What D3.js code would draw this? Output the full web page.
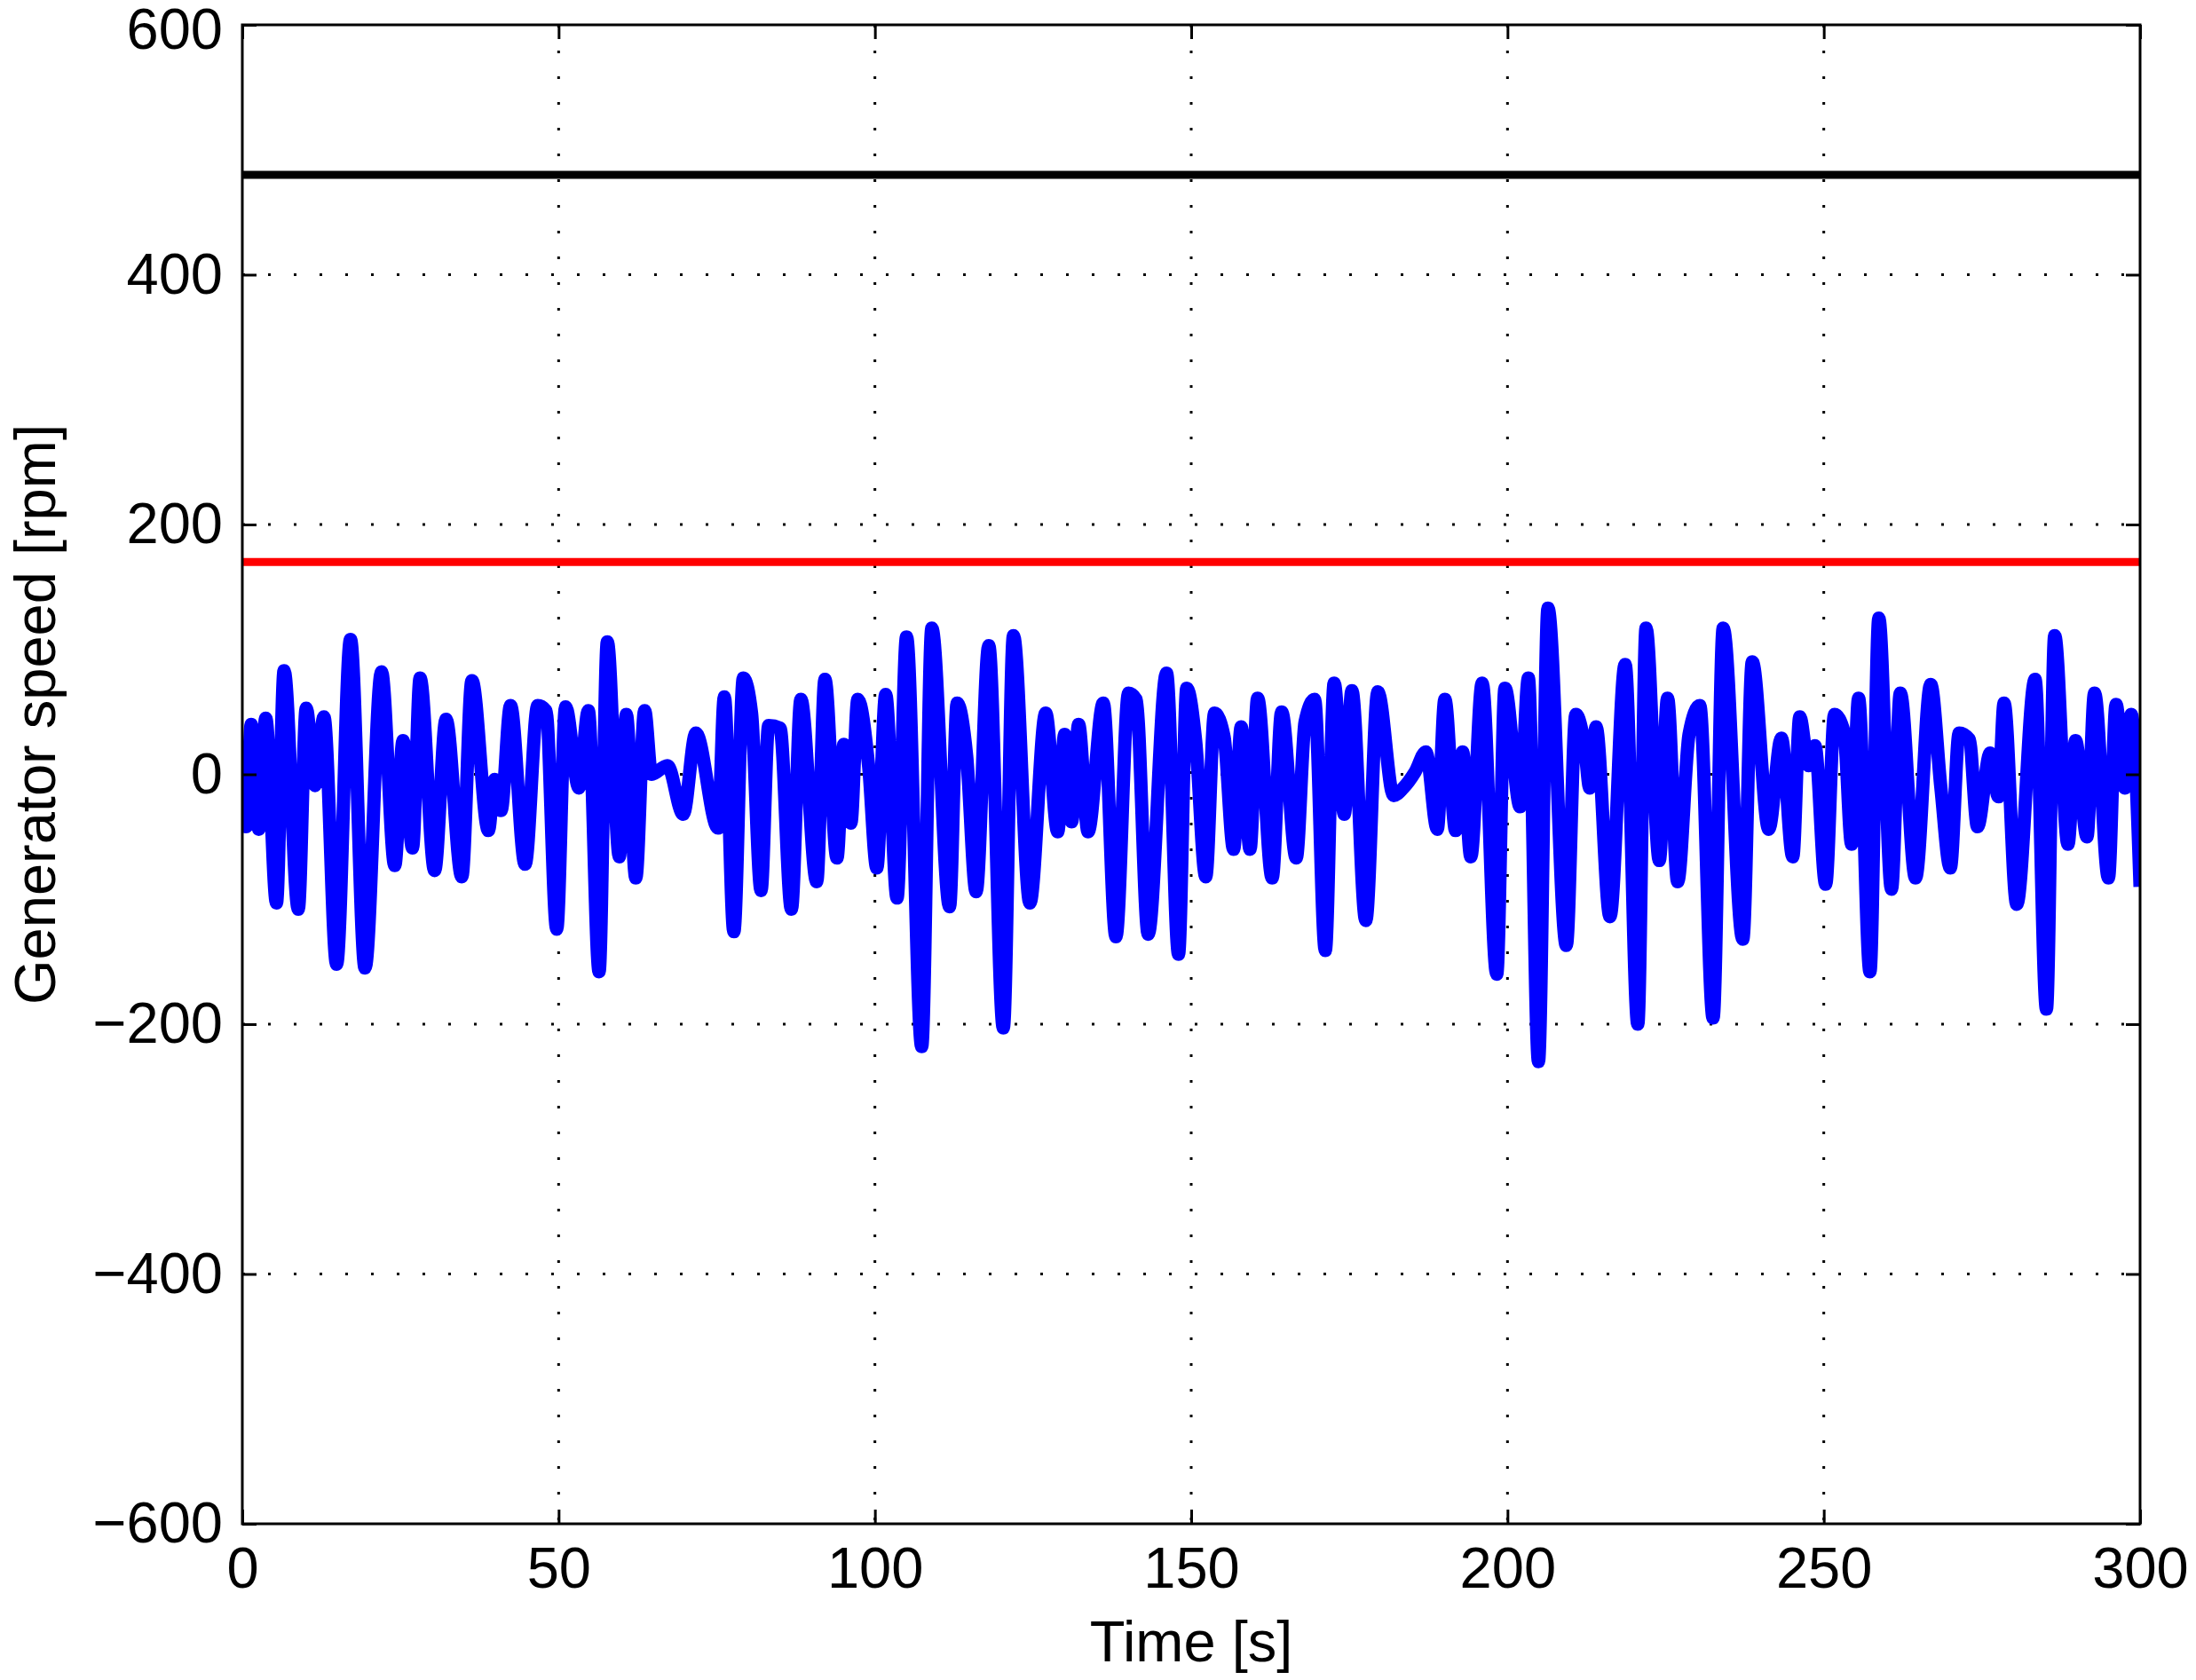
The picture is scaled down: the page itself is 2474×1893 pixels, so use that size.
<!DOCTYPE html>
<html><head><meta charset="utf-8">
<script src="https://cdn.jsdelivr.net/npm/d3@7/dist/d3.min.js"></script>
<style>body{margin:0;background:#fff}svg{display:block}text{font-family:"Liberation Sans",Arial,sans-serif}</style>
</head><body>
<script>
const xTicks=[0,50,100,150,200,250,300];
const yTicks=[-600,-400,-200,0,200,400,600];
const blackLevel=480, redLevel=170;
const times=[0,0.6,1.4,2.6,3.7,5.4,6.6,8.85,10.1,11.5,12.9,14.9,17.1,19.4,22.0,24.1,25.4,26.9,28.1,30.4,32.2,34.7,36.3,38.9,39.9,40.9,42.4,44.7,46.7,48.0,49.7,51.1,53.2,54.7,56.4,57.7,59.6,60.7,62.2,63.6,64.7,67.2,69.7,71.7,75.2,76.2,77.7,
79.2,80.5,82.0,83.2,85.0,86.8,88.3,90.8,92.1,94.0,95.1,96.2,97.3,99.0,100.3,101.7,103.5,105.0,107.4,109.0,111.8,113.0,114.5,116.0,118.0,120.3,121.9,124.5,127.0,128.9,130.0,131.1,132.2,133.7,136.1,138.1,140.1,141.3,143.2,146.1,148.0,149.3,150.7,152.3,
153.7,155.2,156.7,157.9,159.3,160.5,162.8,164.3,166.6,168.0,169.5,171.2,172.6,174.2,175.4,177.6,179.5,182.0,183.5,185.4,187.1,188.9,190.1,191.8,192.9,194.2,196.0,198.3,199.6,202.0,203.3,204.9,206.4,209.3,210.8,212.2,213.0,214.0,216.2,218.6,220.6,221.9,224.0,225.3,226.9,
228.7,230.4,232.5,234.1,237.2,238.7,241.3,243.3,245.1,246.2,247.6,248.6,250.3,251.7,253.2,254.4,255.5,257.3,258.7,260.7,262.1,264.5,266.9,268.5,270.0,271.4,273.0,274.3,276.3,277.6,278.5,280.5,283.4,285.2,286.5,288.6,289.8,291.6,292.8,295.0,296.2,297.6,298.6,300];
const speed=[0,-42,40,-44,45,-103,83,-108,53,-9,46,-152,108,-155,82,-73,27,-59,77,-77,44,-82,75,-45,-4,-29,55,-72,55,51,-124,54,-11,51,-158,106,-66,48,-83,51,0,7,-32,33,-43,62,-126,
77,49,-93,39,37,-108,60,-86,76,-67,24,-39,60,7,-75,64,-99,110,-218,117,-106,57,15,-94,103,-203,111,-103,49,-46,32,-38,40,-46,57,-130,65,60,-128,81,-144,69,27,-82,
49,30,-60,38,-60,61,-83,50,-67,42,60,-141,73,-32,67,-117,66,-17,-11,2,18,-44,60,-45,18,-66,73,-160,69,-26,77,-230,133,-137,48,22,-11,38,-114,88,-200,117,-69,61,-86,
32,55,-195,117,-132,90,-44,29,-66,46,7,23,-88,48,34,-56,61,-158,125,-92,65,-83,72,-10,-75,33,28,-42,17,-18,57,-104,76,-188,111,-56,27,-50,65,-83,56,-11,48,-90];

const W=2474,H=1893,m={l:273,t:28,r:63,b:176};
const svg=d3.select("body").append("svg").attr("width",W).attr("height",H);
const x=d3.scaleLinear().domain([0,300]).range([m.l,W-m.r]);
const y=d3.scaleLinear().domain([-600,600]).range([H-m.b,m.t]);
const g=svg.append("g");
g.selectAll(".gx").data(xTicks.slice(1,-1)).join("line").attr("x1",d=>x(d)).attr("x2",d=>x(d)).attr("y1",m.t).attr("y2",H-m.b).attr("stroke","#000").attr("stroke-width",3).attr("stroke-dasharray","3,26");
g.selectAll(".gy").data(yTicks.slice(1,-1)).join("line").attr("y1",d=>y(d)).attr("y2",d=>y(d)).attr("x1",m.l).attr("x2",W-m.r).attr("stroke","#000").attr("stroke-width",3).attr("stroke-dasharray","3,26");
svg.append("clipPath").attr("id","c").append("rect").attr("x",m.l).attr("y",m.t).attr("width",W-m.l-m.r).attr("height",H-m.t-m.b);
const line=d3.line().x((d,i)=>x(times[i])).y(d=>y(d)).curve(d3.curveMonotoneX);
g.append("path").attr("d",line(speed)).attr("fill","none").attr("stroke","#0000ff").attr("stroke-width",15).attr("stroke-linejoin","round").attr("clip-path","url(#c)");
g.append("line").attr("x1",x(0)).attr("x2",x(300)).attr("y1",y(redLevel)).attr("y2",y(redLevel)).attr("stroke","#ff0000").attr("stroke-width",9);
g.append("line").attr("x1",x(0)).attr("x2",x(300)).attr("y1",y(blackLevel)).attr("y2",y(blackLevel)).attr("stroke","#000").attr("stroke-width",9);
const fs=65;
const ax=d3.axisBottom(x).tickValues(xTicks).tickSize(-16).tickPadding(26);
const ay=d3.axisLeft(y).tickValues(yTicks).tickSize(-16).tickPadding(22).tickFormat(d=>d<0?"\u2212"+(-d):d);
const gx=svg.append("g").attr("transform",`translate(0,${H-m.b})`).call(ax);
const gy=svg.append("g").attr("transform",`translate(${m.l},0)`).call(ay);
svg.append("g").attr("transform",`translate(0,${m.t})`).call(d3.axisTop(x).tickValues(xTicks).tickSize(-16).tickFormat(""));
svg.append("g").attr("transform",`translate(${W-m.r},0)`).call(d3.axisRight(y).tickValues(yTicks).tickSize(-16).tickFormat(""));
svg.selectAll(".domain").remove();
svg.selectAll(".tick line").attr("stroke","#000").attr("stroke-width",3);
svg.selectAll(".tick text").attr("font-size",fs).attr("fill","#000").style("font-family","Liberation Sans, Arial, sans-serif");
gx.selectAll(".tick text").attr("dy","0.71em");
gy.selectAll(".tick text").filter(d=>d===600).attr("dy","0.4em");
svg.append("rect").attr("x",m.l).attr("y",m.t).attr("width",W-m.l-m.r).attr("height",H-m.t-m.b).attr("fill","none").attr("stroke","#000").attr("stroke-width",3);
svg.append("text").attr("x",(m.l+W-m.r)/2).attr("y",1872).attr("text-anchor","middle").attr("font-size",fs).text("Time [s]");
svg.append("text").attr("transform",`translate(62,805) rotate(-90)`).attr("text-anchor","middle").attr("font-size",fs).text("Generator speed [rpm]");
</script>
</body></html>
